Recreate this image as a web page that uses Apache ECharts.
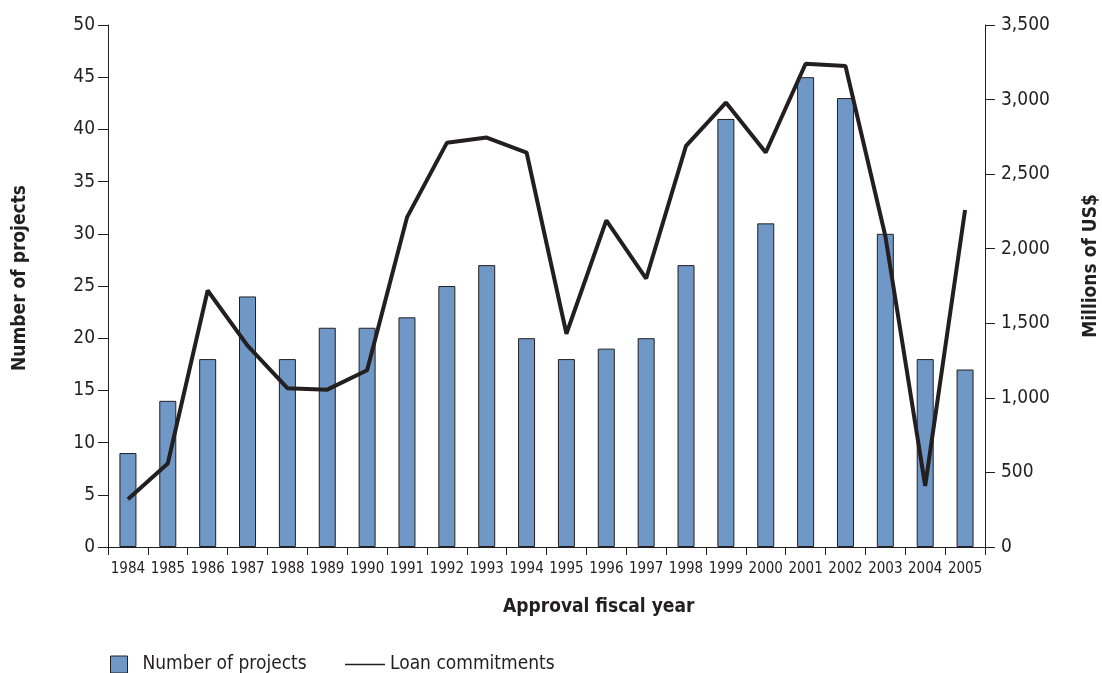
<!DOCTYPE html>
<html>
<head>
<meta charset="utf-8">
<style>
  html, body { margin: 0; padding: 0; background: #fff; overflow: hidden; }
  #chart { width: 1102px; height: 673px; }
</style>
<script src="https://cdn.jsdelivr.net/npm/echarts@6/dist/echarts.min.js"></script>
</head>
<body>
<div id="chart"></div>
<script>
const years = ['1984', '1985', '1986', '1987', '1988', '1989', '1990', '1991', '1992', '1993', '1994',
  '1995', '1996', '1997', '1998', '1999', '2000', '2001', '2002', '2003', '2004', '2005'];
const projects = [9, 14, 18, 24, 18, 21, 21, 22, 25, 27, 20, 18, 19, 20, 27, 41, 31, 45, 43, 30, 18, 17];
const loans = [320, 560, 1720, 1350, 1065, 1055, 1185, 2210, 2710, 2745, 2645, 1430, 2190, 1800, 2690,
  2980, 2645, 3240, 3225, 2085, 410, 2260];

const font = '"Liberation Sans Narrow", "DejaVu Sans Condensed", "Liberation Sans", sans-serif';
const ink = '#231f20';

const chart = echarts.init(document.getElementById('chart'));

const option = {
  animation: false,
  textStyle: { fontFamily: font, color: ink },
  grid: { left: 108, right: 117, top: 25, bottom: 126, outerBoundsMode: 'none' },
  legend: [
    {
      data: ['Number of projects'],
      left: 105,
      top: 650,
      icon: 'rect',
      itemWidth: 17,
      itemHeight: 17,
      itemStyle: { borderColor: ink, borderWidth: 1 },
      textStyle: { fontFamily: font, fontSize: 19, color: ink, padding: [0, 0, 0, 10] }
    },
    {
      data: ['Loan commitments'],
      left: 340,
      top: 650,
      icon: 'path://M0,0H40V1.5H0Z',
      itemWidth: 40,
      itemHeight: 1.5,
      textStyle: { fontFamily: font, fontSize: 19, color: ink }
    }
  ],
  graphic: [
    {
      type: 'text',
      left: 503,
      top: 598,
      style: { text: 'Approval fiscal year', font: 'bold 19px ' + font, fill: ink }
    }
  ],
  xAxis: {
    type: 'category',
    data: years,
    axisLine: { lineStyle: { color: ink, width: 1 } },
    axisTick: { show: true, length: 8, lineStyle: { color: ink } },
    axisLabel: { fontSize: 15, color: ink, margin: 15, interval: 0 }
  },
  yAxis: [
    {
      type: 'value',
      min: 0,
      max: 50,
      interval: 5,
      name: 'Number of projects',
      nameLocation: 'middle',
      nameGap: 78,
      nameTextStyle: { fontFamily: font, fontSize: 19, fontWeight: 'bold', color: ink, padding: [0, 0, 0, 16] },
      splitLine: { show: false },
      axisLine: { show: true, lineStyle: { color: ink } },
      axisTick: { show: true, length: 10, lineStyle: { color: ink } },
      axisLabel: { fontSize: 19, color: ink, margin: 13 }
    },
    {
      type: 'value',
      min: 0,
      max: 3500,
      interval: 500,
      name: 'Millions of US$',
      nameLocation: 'middle',
      nameGap: 97,
      nameRotate: 90,
      nameTextStyle: { fontFamily: font, fontSize: 19, fontWeight: 'bold', color: ink, padding: [0, 0, 0, 40] },
      splitLine: { show: false },
      axisLine: { show: true, lineStyle: { color: ink } },
      axisTick: { show: true, length: 10, lineStyle: { color: ink } },
      axisLabel: {
        fontSize: 19,
        color: ink,
        margin: 16,
        formatter: v => v.toLocaleString('en-US')
      }
    }
  ],
  series: [
    {
      name: 'Number of projects',
      type: 'bar',
      yAxisIndex: 0,
      barWidth: 17,
      itemStyle: { color: '#7098c6', borderColor: ink, borderWidth: 1 },
      data: projects
    },
    {
      name: 'Loan commitments',
      type: 'line',
      yAxisIndex: 1,
      symbol: 'none',
      lineStyle: { width: 4, color: ink },
      itemStyle: { color: ink },
      data: loans,
      z: 3
    }
  ]
};

chart.setOption(option);
</script>
</body>
</html>
